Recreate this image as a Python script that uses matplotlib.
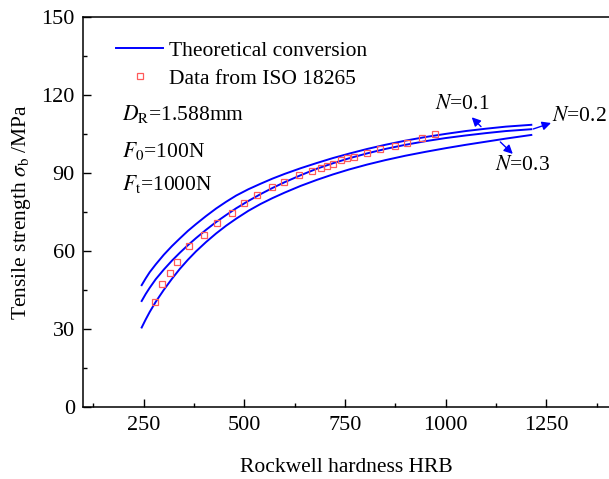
import matplotlib
matplotlib.use("Agg")
import matplotlib.pyplot as plt
from matplotlib.ticker import MultipleLocator

plt.rcParams['font.family'] = ['Liberation Serif', 'DejaVu Serif']
plt.rcParams['mathtext.fontset'] = 'stix'

# Theoretical conversion curves (HRB vs tensile strength)
hrb_curve = [245, 255, 265, 280, 300, 320, 340, 360, 380, 405, 430, 455, 480, 510, 540, 570,
             600, 640, 680, 720, 760, 805, 850, 900, 950, 1000, 1050, 1100, 1150, 1213]
sigma_n01 = [47.0, 49.6, 52.0, 55.0, 58.7, 62.0, 65.0, 67.9, 70.5, 73.6, 76.5, 79.1, 81.5, 83.9, 86.0, 88.0,
             89.8, 92.0, 94.0, 95.9, 97.6, 99.4, 101.0, 102.6, 104.0, 105.2, 106.3, 107.2, 108.0, 108.7]
sigma_n02 = [40.9, 43.6, 46.0, 49.3, 53.0, 56.4, 59.5, 62.4, 65.1, 68.3, 71.3, 74.0, 76.6, 79.4, 82.0, 84.4,
             86.6, 89.3, 91.8, 93.9, 95.8, 97.7, 99.4, 101.0, 102.4, 103.6, 104.6, 105.5, 106.3, 107.0]
sigma_n03 = [30.7, 33.8, 36.7, 40.6, 45.2, 49.4, 53.3, 56.8, 60.0, 63.6, 66.9, 69.9, 72.6, 75.6, 78.2, 80.5,
             82.6, 85.2, 87.5, 89.6, 91.5, 93.4, 95.1, 96.8, 98.3, 99.7, 101.0, 102.2, 103.4, 104.8]

# Data from ISO 18265
hrb_iso = [279, 296, 316, 332, 363, 400, 432, 469, 499, 531, 568, 599, 637, 668, 690,
           706, 721, 739, 754, 772, 805, 836, 875, 905, 942, 974]
sigma_iso = [40.7, 47.6, 51.8, 55.8, 61.9, 66.2, 70.9, 74.6, 78.5, 81.5, 84.6, 86.6, 89.2, 91.0, 92.1,
             93.0, 93.7, 95.0, 95.9, 96.5, 97.8, 99.2, 100.7, 101.7, 103.6, 105.1]

x_ticks = [250, 500, 750, 1000, 1250]
y_ticks = [0, 30, 60, 90, 120, 150]

fig = plt.figure(figsize=(6.09, 4.79), dpi=100)
ax = fig.add_axes([0.1368, 0.1497, 0.8632, 0.8138])

blue = '#0000ff'
ax.plot(hrb_curve, sigma_n01, color=blue, lw=1.4, label='Theoretical conversion')
ax.plot(hrb_curve, sigma_n02, color=blue, lw=1.4)
ax.plot(hrb_curve, sigma_n03, color=blue, lw=1.4)
ax.plot(hrb_iso, sigma_iso, linestyle='none', marker='s', ms=5, mfc='none',
        mec='#ff5a5a', mew=0.9, label='Data from ISO 18265')

ax.set_xlim(100, 1406)
ax.set_ylim(0, 150)
ax.set_xticks(x_ticks)
ax.set_yticks(y_ticks)
ax.xaxis.set_minor_locator(MultipleLocator(125))
ax.yaxis.set_minor_locator(MultipleLocator(15))
ax.tick_params(which='major', direction='in', length=6, width=1.0, labelsize=16,
               top=False, right=False, pad=6)
ax.tick_params(which='minor', direction='in', length=3, width=1.0, top=False, right=False)
for s in ['left', 'bottom', 'top']:
    ax.spines[s].set_linewidth(1.1)
ax.spines['right'].set_visible(False)

ax.set_xlabel('Rockwell hardness HRB', fontsize=15.5, labelpad=17)
ax.set_ylabel(r'Tensile strength $\sigma_{\mathrm{b}}$ /MPa', fontsize=15.5, labelpad=6)

leg = ax.legend(loc='upper left', bbox_to_anchor=(0.062, 0.94), frameon=False, fontsize=15.5,
                handlelength=2.2, handletextpad=0.25, labelspacing=0.35, borderaxespad=0,
                borderpad=0)

fs = 15.5
ax.text(195, 113.0, r'$D_{\mathrm{R}}$=1.588mm', fontsize=fs, va='center')
ax.text(195, 98.8, r'$F_{0}$=100N', fontsize=fs, va='center')
ax.text(195, 86.1, r'$F_{\mathrm{t}}$=1000N', fontsize=fs, va='center')

akw = dict(arrowstyle='-|>', color=blue, lw=1.0, mutation_scale=13, shrinkA=0, shrinkB=0)
ax.annotate('', xy=(1065, 111.6), xytext=(1088, 108.0), arrowprops=akw)
ax.text(1041, 116.5, r'$N$=0.1', fontsize=fs, ha='center', va='center')
ax.annotate('', xy=(1262, 109.4), xytext=(1218, 107.1), arrowprops=akw)
ax.text(1264, 112.0, r'$N$=0.2', fontsize=fs, ha='left', va='center')
ax.annotate('', xy=(1167, 97.5), xytext=(1136, 102.1), arrowprops=akw)
ax.text(1190, 93.0, r'$N$=0.3', fontsize=fs, ha='center', va='center')

fig.savefig('out.png', dpi=100)
